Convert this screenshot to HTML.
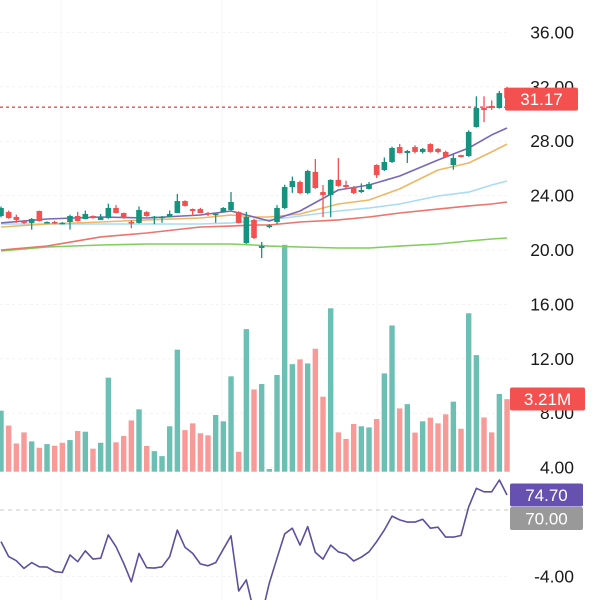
<!DOCTYPE html>
<html><head><meta charset="utf-8">
<style>
html,body{margin:0;padding:0;background:#fff;}
svg{display:block;font-family:"Liberation Sans",sans-serif;}
</style></head>
<body>
<svg id="chart" width="600" height="600" viewBox="0 0 600 600" xmlns="http://www.w3.org/2000/svg"></svg>
<script>
// ---- data ----
const opens  = [22.50,22.79,22.43,22.13,21.99,22.87,22.00,22.06,21.95,22.06,22.50,22.28,22.50,22.21,22.35,23.09,22.72,22.06,21.99,22.79,22.40,22.40,22.43,22.72,23.60,23.01,23.01,22.72,22.62,22.79,22.94,22.79,20.51,22.21,20.15,21.70,22.06,23.09,24.63,25.00,24.19,25.74,24.26,24.04,25.15,24.78,24.63,24.26,24.49,26.25,25.88,26.47,27.57,27.13,27.57,27.21,27.79,27.43,27.21,26.25,26.98,26.91,29.04,30.44,30.59,30.44,31.91];
const highs  = [23.20,22.90,22.60,22.20,22.35,22.90,22.10,22.15,22.05,22.60,22.80,22.90,22.55,22.65,23.40,23.30,22.75,22.20,23.20,22.85,22.50,22.50,22.90,24.12,23.65,23.05,23.10,22.80,22.70,23.15,24.26,22.85,22.80,22.30,20.59,21.90,23.30,24.80,25.40,25.10,25.90,26.69,24.78,25.20,26.76,25.10,24.70,24.90,25.00,26.30,26.80,27.60,27.80,27.35,27.70,27.50,27.85,27.50,27.30,27.10,27.00,28.80,31.30,31.30,31.00,31.70,32.00];
const lows   = [22.40,22.30,22.00,21.90,21.50,22.10,21.95,21.90,21.90,21.50,22.10,22.25,22.30,22.20,22.30,22.70,22.30,21.60,21.95,22.45,21.90,22.00,22.40,22.70,23.20,22.50,22.70,22.50,22.00,22.75,22.90,21.95,20.45,20.80,19.41,21.60,21.90,23.00,24.20,24.10,24.10,24.50,22.43,22.43,24.65,24.50,24.10,24.20,24.45,25.30,25.80,26.40,27.10,26.40,27.10,27.10,27.15,27.10,26.80,25.90,26.80,26.85,29.00,29.40,30.30,30.40,30.30];
const closes = [23.09,22.35,22.21,21.99,22.28,22.13,22.06,21.99,22.00,22.50,22.13,22.65,22.35,22.43,23.09,22.72,22.35,21.99,22.94,22.50,22.45,22.45,22.65,23.60,23.24,22.87,22.72,22.65,22.67,23.09,23.53,21.99,22.43,20.88,20.29,21.80,23.09,24.63,25.07,24.19,25.81,24.56,24.04,25.15,24.71,24.63,24.19,24.41,24.85,25.51,26.47,27.50,27.13,27.28,27.21,27.43,27.21,27.21,26.84,26.76,26.84,28.68,30.44,30.29,30.44,31.54,31.17];
const volumes = [2.70,2.04,1.25,1.74,1.34,1.06,1.22,1.15,1.28,1.40,1.80,1.77,1.02,1.28,4.16,1.30,1.58,2.27,2.76,1.14,0.91,0.69,2.01,5.40,1.84,2.14,1.70,1.61,2.51,2.23,4.22,0.88,6.31,3.64,3.88,0.12,4.28,10.04,4.76,4.97,4.79,5.44,3.32,7.23,1.74,1.45,2.11,2.01,1.96,2.33,4.35,6.47,2.80,2.99,1.73,2.23,2.39,2.14,2.54,3.10,1.90,7.01,5.16,2.40,1.74,3.44,3.21];
const volUpFlags = [1,0,0,0,1,0,1,0,0,1,0,1,0,1,1,0,0,0,1,0,1,1,1,1,0,0,0,0,1,1,1,0,1,0,1,1,1,1,1,0,1,0,0,1,0,0,0,1,1,0,1,1,0,1,0,1,0,0,0,1,0,1,1,0,0,1,0];
const rsiValues = [60.1,55.4,54.1,51.7,53.5,52.2,52.1,50.7,50.4,55.9,53.8,57.2,54.6,54.9,62.2,58.5,53.3,47.5,56.4,51.9,51.8,52.2,55.4,63.7,58.3,56.4,53.1,52.5,53.5,57.7,61.9,44.6,48.1,38.0,37.0,47.1,54.9,62.5,64.3,59.0,64.8,56.7,54.6,59.0,56.9,56.2,54.0,55.2,56.9,60.1,63.7,68.1,66.9,66.2,66.2,67.1,64.3,64.6,61.5,61.5,62.0,71.0,76.8,75.7,75.7,79.4,74.7];
const maIndex = [0,6,13,19,26,30,33,35,39,44,48,52,57,61,64,66];
const maPurple = [21.99,22.28,22.43,22.35,22.57,22.87,22.43,22.13,22.87,24.41,24.78,25.44,26.62,27.50,28.46,28.97];
const maOrange = [21.69,21.91,22.06,22.21,22.35,22.57,22.43,22.43,22.65,23.38,23.68,24.49,25.88,26.40,27.21,27.79];
const maBlue   = [21.91,21.91,21.91,21.91,21.91,21.99,22.13,22.21,22.50,22.87,23.09,23.38,23.97,24.26,24.78,25.07];
const maRed    = [20.00,20.29,20.96,21.25,21.69,21.76,21.84,21.84,22.06,22.21,22.43,22.72,23.01,23.24,23.38,23.53];
const maGreen  = [19.93,20.22,20.37,20.44,20.44,20.44,20.37,20.29,20.22,20.15,20.15,20.29,20.44,20.66,20.81,20.88];
const priceTicks = [36,32,28,24,20,16,12,8,4,-4];
const priceTickLabels = ["36.00","32.00","28.00","24.00","20.00","16.00","12.00","8.00","4.00","-4.00"];
const lastPrice = 31.17;
const refLine = 30.5;
const lastVolume = 3.21;
const rsiLevel = 70;

// ---- axes ----
const NS="http://www.w3.org/2000/svg";
const svg=document.getElementById('chart');
const xAt=i=>1+i*7.667;
const yP=p=>250-(p-20)*13.6;
const VOL_BASE=471.7, VOL_PX=22.6;
const yV=v=>VOL_BASE-v*VOL_PX;
const yR=r=>510-(r-rsiLevel)*3.19;
function mk(tag,attrs,parent){const e=document.createElementNS(NS,tag);for(const k in attrs)e.setAttribute(k,attrs[k]);(parent||svg).appendChild(e);return e;}

const clip=mk('clipPath',{id:'plotclip'});mk('rect',{x:0,y:0,width:510,height:600},clip);

// grid
const grid=mk('g',{});


priceTicks.forEach(t=>{mk('line',{x1:0,x2:510,y1:yP(t),y2:yP(t),stroke:'#f3f3f3','stroke-width':1,'stroke-dasharray':'3 3'},grid);});
[61,222,377].forEach(x=>mk('line',{x1:x,x2:x,y1:0,y2:600,stroke:'#f5f5f5','stroke-width':1},grid));

// volume
const vg=mk('g',{'clip-path':'url(#plotclip)'});


volumes.forEach((v,i)=>{
  const r=mk('rect',{x:xAt(i)-2.7,y:yV(v),width:5.4,height:v*VOL_PX,fill:volUpFlags[i]?'#6cc0b3':'#f79a98'},vg);
  
  
});

// moving averages
function maLine(vals,color,name){
  const pts=maIndex.map((ix,k)=>xAt(ix).toFixed(1)+','+yP(vals[k]).toFixed(1)).join(' ');
  const l=mk('polyline',{points:pts,fill:'none',stroke:color,'stroke-width':1.6,'stroke-linejoin':'round'});
  
  
}
maLine(maGreen,'#7fd05a','ma-green');
maLine(maRed,'#e9756b','ma-red');
maLine(maBlue,'#a9dcf2','ma-blue');
maLine(maOrange,'#eeb765','ma-orange');
maLine(maPurple,'#7868b8','ma-purple');

// reference dashed line
const dl=mk('line',{x1:0,x2:510,y1:yP(refLine),y2:yP(refLine),stroke:'#e0514d','stroke-width':1.3,'stroke-dasharray':'3 3'});



// candles
const cg=mk('g',{});


opens.forEach((o,i)=>{
  const c=closes[i],up=c>=o,col=up?'#15937f':'#f2514f';
  const x=xAt(i);
  const g=mk('g',{},cg);
  
  
  mk('line',{x1:x,x2:x,y1:yP(highs[i]),y2:yP(lows[i]),stroke:col,'stroke-width':1.3},g);
  const top=yP(Math.max(o,c)),bot=yP(Math.min(o,c));
  mk('rect',{x:x-2.8,y:top,width:5.6,height:Math.max(bot-top,1.5),fill:col},g);
});

// RSI
const rl=mk('line',{x1:0,x2:510,y1:yR(rsiLevel),y2:yR(rsiLevel),stroke:'#c8c8c8','stroke-width':1,'stroke-dasharray':'4 4'});


const rp=mk('polyline',{points:rsiValues.map((r,i)=>xAt(i).toFixed(1)+','+yR(r).toFixed(1)).join(' '),fill:'none',stroke:'#5e4f9e','stroke-width':1.6,'stroke-linejoin':'round','clip-path':'url(#plotclip)'});



// axis labels
const ax=mk('g',{});


priceTicks.forEach((t,k)=>{
  const tx=mk('text',{x:574,y:yP(t)+6,'text-anchor':'end','font-size':17.5,fill:'#1a1a1a'},ax);
  tx.textContent=priceTickLabels[k];
  
  
});

function badge(yc,w,x0,color,text,name){
  const g=mk('g',{});
  
  
  mk('rect',{x:x0,y:yc-11.5,width:w,height:23,rx:2,fill:color},g);
  const t=mk('text',{x:x0+w/2,y:yc+6,'text-anchor':'middle','font-size':17,fill:'#fff'},g);
  t.textContent=text;
}
badge(yP(lastPrice)+1,73,505,'#f2514f',lastPrice.toFixed(2),'last-price-badge');
badge(399,75,510,'#f2514f',lastVolume.toFixed(2)+'M','volume-badge');
badge(yR(rsiValues[rsiValues.length-1]),73,510,'#6650b0',rsiValues[rsiValues.length-1].toFixed(2),'rsi-value-badge');
badge(yR(rsiLevel)+8.5,73,510,'#999999',rsiLevel.toFixed(2),'rsi-level-badge');
</script>
</body></html>
